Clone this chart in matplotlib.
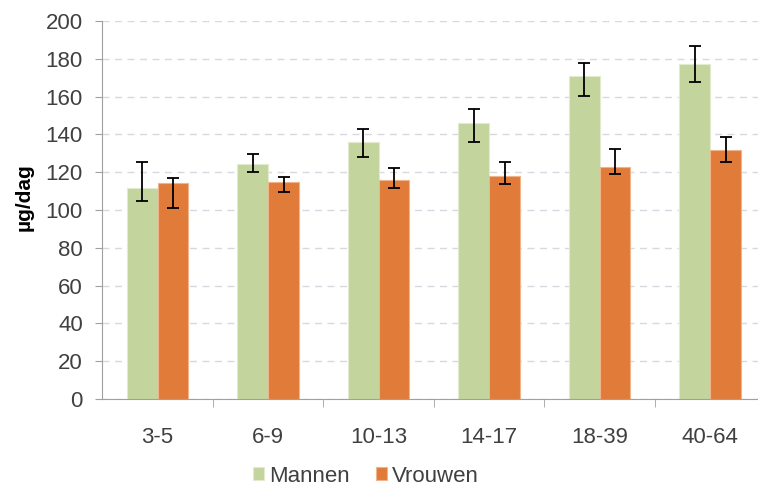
import matplotlib.pyplot as plt
import numpy as np

plt.rcParams['font.family'] = ['Liberation Sans', 'DejaVu Sans']

# data
groups = ["3-5", "6-9", "10-13", "14-17", "18-39", "40-64"]
mannen = [111.6, 124.2, 136.2, 145.9, 171.1, 177.1]
mannen_lo = [104.8, 119.9, 128.2, 136.0, 160.1, 167.7]
mannen_hi = [125.4, 129.8, 142.7, 153.3, 177.6, 186.8]
vrouwen = [114.1, 115.0, 115.9, 117.8, 122.6, 131.6]
vrouwen_lo = [100.9, 109.3, 111.6, 113.8, 119.0, 125.2]
vrouwen_hi = [116.9, 117.6, 122.2, 125.4, 132.3, 138.8]

green = "#C4D49D"
orange = "#E07B39"
text_col = "#404040"

fig = plt.figure(figsize=(7.58, 4.86), dpi=100)
ax = fig.add_axes([102.3 / 758, 1 - 399 / 486, 1 - 102.3 / 758, (399 - 21) / 486])

x = np.arange(len(groups))
w = 0.28
m = np.array(mannen)
v = np.array(vrouwen)
m_err = [m - np.array(mannen_lo), np.array(mannen_hi) - m]
v_err = [v - np.array(vrouwen_lo), np.array(vrouwen_hi) - v]

ekw = dict(ecolor="black", elinewidth=1.3, capsize=4.5, capthick=1.3)
ax.bar(x - w / 2, m, w, color=green, edgecolor="#E2EBCF", linewidth=0.8,
       yerr=m_err, error_kw=ekw, label="Mannen", zorder=2)
ax.bar(x + w / 2, v, w, color=orange, edgecolor="#F0B48C", linewidth=0.8,
       yerr=v_err, error_kw=ekw, label="Vrouwen", zorder=2)

ax.set_xlim(-0.5, -0.5 + (758 - 102.3) / 110.5)
ax.set_ylim(0, 200)
ax.set_yticks(range(0, 201, 20))
ax.set_xticks(x)
ax.set_xticklabels(groups)
ax.set_xticks(np.arange(0.5, len(groups) - 0.5, 1), minor=True)
ax.tick_params(axis="x", which="major", length=0, pad=20, labelsize=16, labelcolor=text_col)
ax.tick_params(axis="x", which="minor", length=6, color="#A0A0A0", direction="out")
ax.tick_params(axis="y", length=5, color="#A0A0A0", labelsize=16, labelcolor=text_col, pad=9)

ax.yaxis.grid(True, color="#D8D8E0", linestyle=(0, (5, 4)), linewidth=1, zorder=0)
ax.set_axisbelow(True)

for s in ["top", "right"]:
    ax.spines[s].set_visible(False)
ax.spines["left"].set_color("#A0A0A0")
ax.spines["bottom"].set_color("#A0A0A0")

ax.set_ylabel("µg/dag", fontsize=15, fontweight="bold", color="black")
ax.yaxis.set_label_coords(-0.105, 0.534)

fig.legend(loc="center", bbox_to_anchor=(366 / 758, 1 - 476 / 486), ncol=2, frameon=False,
           fontsize=16, handlelength=0.5, handleheight=0.5, handletextpad=0.2,
           columnspacing=1.2, labelcolor=text_col)

fig.savefig("out.png", dpi=100)
